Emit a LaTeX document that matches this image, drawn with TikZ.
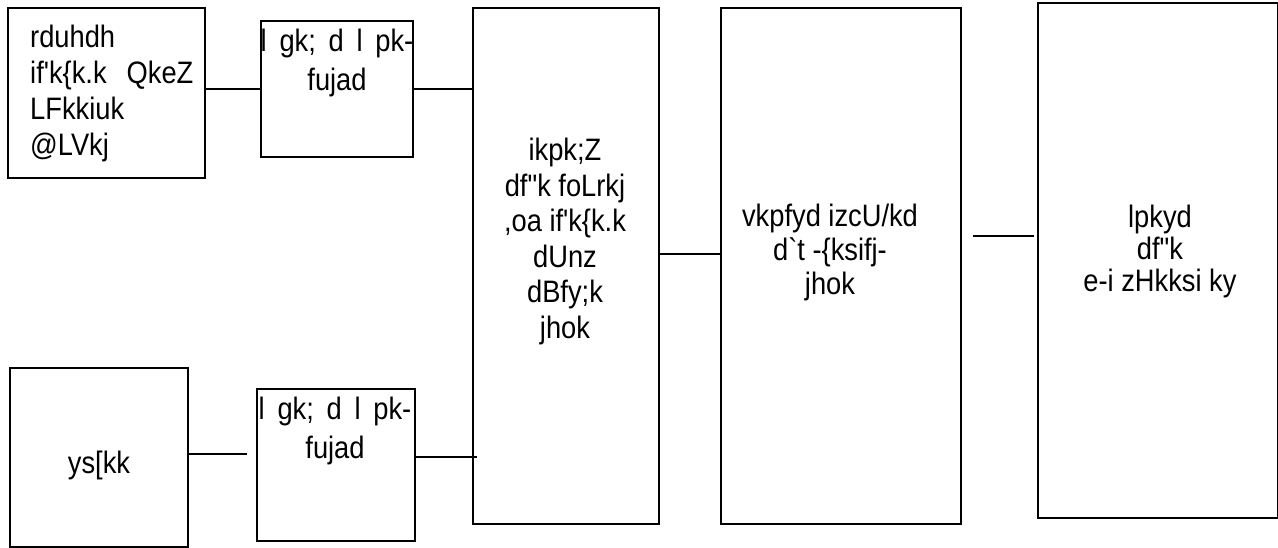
\documentclass[tikz,border=0pt]{standalone}
\usepackage{fontspec}
\setmainfont{Liberation Sans}[Ligatures=TeXOff,FakeStretch=0.88]
\begin{document}
\begin{tikzpicture}[x=1pt,y=-1pt,
  box/.style={draw,line width=2pt,inner sep=0pt,anchor=north west},
  txt/.style={inner sep=0pt,font=\fontsize{31}{36}\selectfont},
  conn/.style={line width=2pt}]
\useasboundingbox (0,0) rectangle (1278,548);
% boxes
\node[box,minimum width=197,minimum height=170] (A) at (7,7) {};
\node[box,minimum width=152,minimum height=136] (B) at (260,20) {};
\node[box,minimum width=178,minimum height=179] (C) at (9,367) {};
\node[box,minimum width=158,minimum height=152] (D) at (256,388) {};
\node[box,minimum width=186,minimum height=516] (E) at (472,7) {};
\node[box,minimum width=240,minimum height=516] (F) at (720,7) {};
\node[box,minimum width=240,minimum height=515] (G) at (1037,2) {};
% texts
\node[txt,anchor=north west,align=left] (At) at (30,25)
  {rduhdh\\ if'k\{k.k\hspace{20pt}QkeZ\\ LFkkiuk\\ @LVkj};
\node[txt,anchor=north,align=center,font=\fontsize{31}{39}\selectfont] (Bt) at (337,29)
  {l\, gk;\, d\, l\, pk-\\ fujad};
\node[txt,anchor=north,align=center,font=\fontsize{31}{39}\selectfont] (Dt) at (335,397)
  {l\, gk;\, d\, l\, pk-\\ fujad};
\node[txt,anchor=base] (Ct) at (99,473) {ys[kk};
\node[txt,anchor=north,align=center,font=\fontsize{31}{35.5}\selectfont] (Et) at (565,138)
  {ikpk;Z\\ df"k foLrkj\\ ,oa if'k\{k.k\\ dUnz\\ dBfy;k\\ jhok};
\node[txt,anchor=north,align=center,font=\fontsize{31}{34}\selectfont] (Ft) at (830,204)
  {vkpfyd izcU/kd\\ d`t -\{ksifj-\\ jhok};
\node[txt,anchor=north,align=center,font=\fontsize{31}{32}\selectfont] (Gt) at (1160,205)
  {lpkyd\\ df"k\\ e-i zHkksi ky};
% connector end points
\coordinate (cd) at (247,454);
\coordinate (de) at (477,457);
\coordinate (ef) at (720,254);
\coordinate (fg1) at (973,236);
\coordinate (fg2) at (1034,236);
% connectors
\draw[conn] (A.east |- B.west) -- (B.west);
\draw[conn] (B.east) -- (B.east -| E.west);
\draw[conn] (C.east |- cd) -- (cd);
\draw[conn] (D.east |- de) -- (de);
\draw[conn] (E.east |- ef) -- (ef);
\draw[conn] (fg1) -- (fg2);
\end{tikzpicture}
\end{document}
